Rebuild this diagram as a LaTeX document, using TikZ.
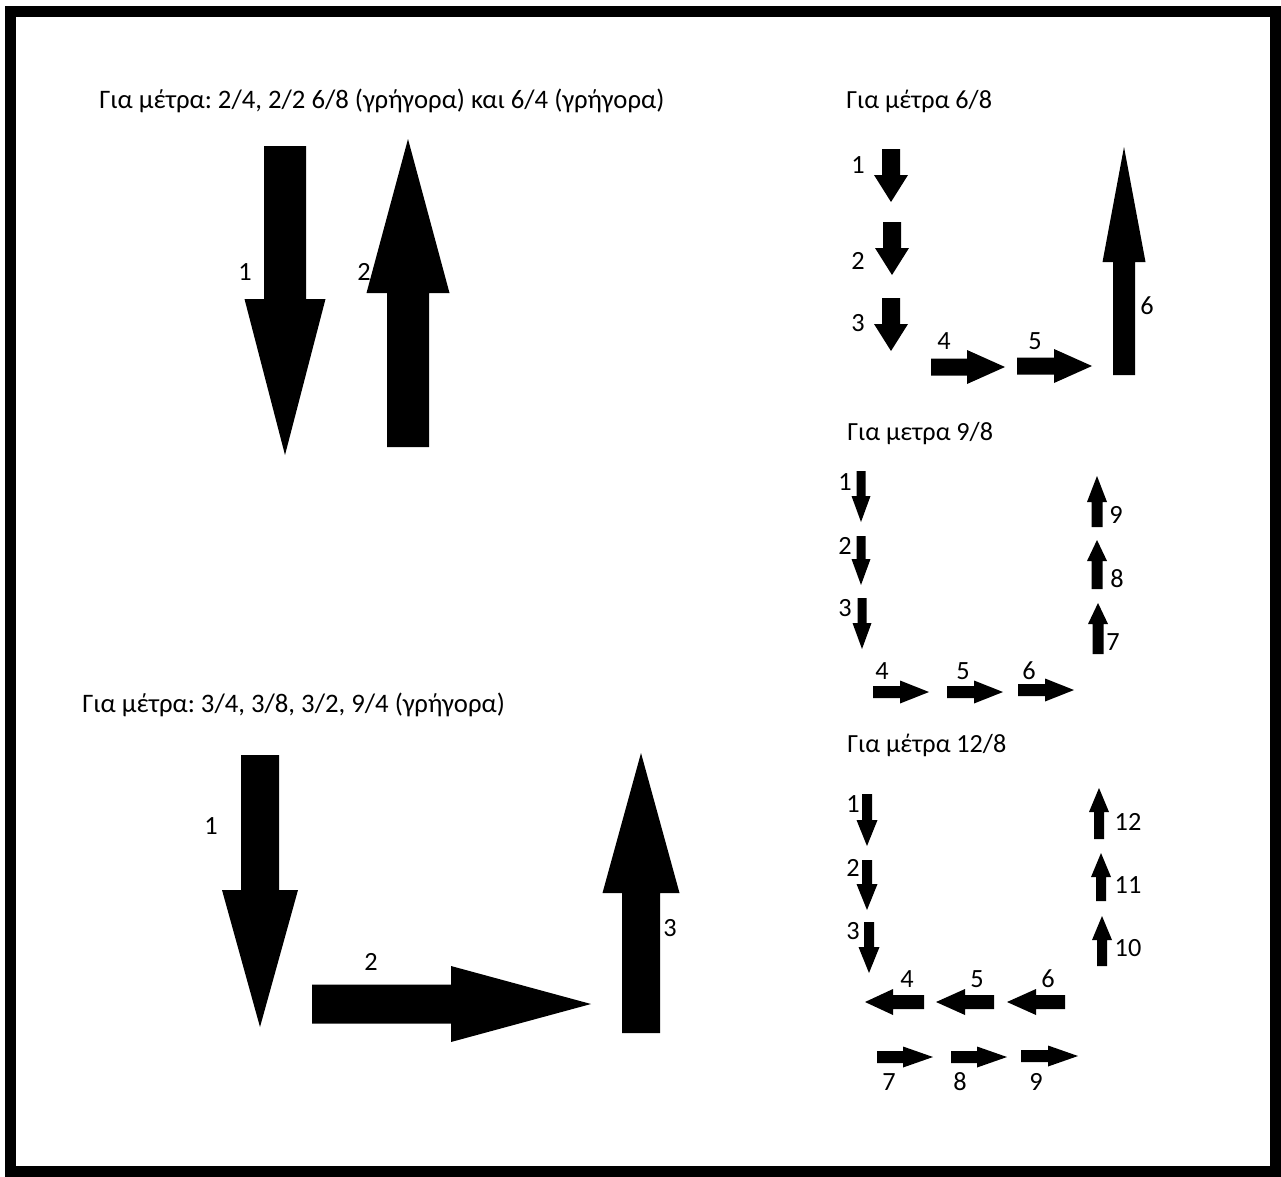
\documentclass[tikz,border=0pt]{standalone}
\usepackage{fontspec}
\setmainfont{Carlito}
\usetikzlibrary{positioning}
\frenchspacing
% block arrow: tail, angle, length, shaft half width, head half width, head length
\newcommand{\barrow}[6]{%
  \fill[shift={#1}, rotate=#2] (0,-#4) -- ({#3-#6},-#4) -- ({#3-#6},-#5) -- (#3,0)
    -- ({#3-#6},#5) -- ({#3-#6},#4) -- (0,#4) -- cycle;
}

\begin{document}
\begin{tikzpicture}[
    x=0.025cm, y=0.025cm,
    title/.style={anchor=base west, inner sep=0, font=\fontsize{19}{22}\selectfont},
    subtitle/.style={anchor=base west, inner sep=0, font=\fontsize{18.6}{22}\selectfont},
    lbl/.style={inner sep=0, font=\fontsize{18.7}{22}\selectfont}
]
    \useasboundingbox (0,0) rectangle (1281,-1176);
    \fill[white] (0,0) rectangle (1281,-1176);
    % Frame
    \draw[line width=8pt] (10.5,-11.5) rectangle (1275.5,-1171.5);

    % Titles
    \node[title] (t1) at (99,-108) {Για μέτρα: 2/4, 2/2 6/8 (γρήγορα) και 6/4 (γρήγορα)};
    \node[title] (t2) at (82,-712) {Για μέτρα: 3/4, 3/8, 3/2, 9/4 (γρήγορα)};
    \node[subtitle] (t68) at (846,-109) {Για μέτρα 6/8};
    \node[subtitle] (t98) at (847,-440) {Για μετρα 9/8};
    \node[subtitle] (t128) at (847,-752) {Για μέτρα 12/8};

    % Two beats
    \barrow{(285,-146)}{-90}{309}{21}{40.5}{156}
    \barrow{(408,-447)}{90}{308}{21}{41.5}{154}
    \node[lbl] (a1) at (245,-272) {1};
    \node[lbl] (a2) at (364,-272) {2};

    % Three beats
    \barrow{(260,-755)}{-90}{272}{19}{38}{137}
    \barrow{(312,-1004)}{0}{279}{19.5}{38}{140}
    \barrow{(641,-1033)}{90}{280}{19}{38.5}{140}
    \node[lbl] (b1) at (211,-826) {1};
    \node[lbl] (b2) at (371,-962) {2};
    \node[lbl] (b3) at (670,-928) {3};

    % 6/8
    \barrow{(891,-149)}{-90}{53}{9}{17}{27}
    \barrow{(892,-222)}{-90}{53}{9}{17}{27}
    \barrow{(891,-298)}{-90}{53}{9}{17}{27}
    \barrow{(931,-367)}{0}{74}{8.5}{17}{38}
    \barrow{(1017,-366)}{0}{75}{8.5}{17}{38}
    \barrow{(1124,-375)}{90}{228}{11}{21.5}{115}
    \node[lbl] (c1) at (858,-165) {1};
    \node[lbl] (c2) at (858,-261) {2};
    \node[lbl] (c3) at (858,-323) {3};
    \node[lbl] (c4) at (944,-341) {4};
    \node[lbl] (c5) at (1035,-341) {5};
    \node[lbl] (c6) at (1147,-306) {6};

    % 9/8
    \barrow{(861,-471)}{-90}{51}{4.5}{9.5}{26}
    \barrow{(861,-536)}{-90}{49}{4.5}{9.5}{26}
    \barrow{(862,-598)}{-90}{51}{4.5}{9.5}{26}
    \barrow{(873,-692)}{0}{56}{6}{11.5}{29}
    \barrow{(947,-692)}{0}{56}{6}{11.5}{29}
    \barrow{(1018,-690)}{0}{56}{6}{11.5}{29}
    \barrow{(1098,-654)}{90}{51}{5.5}{10}{21}
    \barrow{(1097,-589)}{90}{49}{5.5}{10}{21}
    \barrow{(1097,-527)}{90}{51}{5.5}{10}{26}
    \node[lbl] (d1) at (845,-482) {1};
    \node[lbl] (d2) at (845,-546) {2};
    \node[lbl] (d3) at (845,-608) {3};
    \node[lbl] (d4) at (882,-671) {4};
    \node[lbl] (d5) at (963,-671) {5};
    \node[lbl] (d6) at (1029,-671) {6};
    \node[lbl] (d7) at (1113,-642) {7};
    \node[lbl] (d8) at (1117,-579) {8};
    \node[lbl] (d9) at (1116,-515) {9};

    % 12/8
    \barrow{(867,-794)}{-90}{52}{5}{10.5}{26}
    \barrow{(867,-860)}{-90}{50}{5}{10.5}{26}
    \barrow{(869,-922)}{-90}{51}{5}{10.5}{26}
    \barrow{(924,-1002)}{180}{59}{7}{13}{28}
    \barrow{(994,-1002)}{180}{58}{7}{13}{29}
    \barrow{(1065,-1002)}{180}{58}{7}{13}{29}
    \barrow{(877,-1057)}{0}{56}{6}{10.5}{30}
    \barrow{(951,-1057)}{0}{56}{6}{10.5}{30}
    \barrow{(1021,-1056)}{0}{57}{6}{10.5}{30}
    \barrow{(1102,-966)}{90}{50}{5}{10}{24}
    \barrow{(1101,-901)}{90}{48}{5}{10}{24}
    \barrow{(1099,-839)}{90}{51}{5}{10}{24}
    \node[lbl] (e1) at (853,-804) {1};
    \node[lbl] (e2) at (853,-868) {2};
    \node[lbl] (e3) at (853,-931) {3};
    \node[lbl] (e4) at (907,-979) {4};
    \node[lbl] (e5) at (977,-979) {5};
    \node[lbl] (e6) at (1048,-979) {6};
    \node[lbl] (e7) at (889,-1082) {7};
    \node[lbl] (e8) at (960,-1082) {8};
    \node[lbl] (e9) at (1036,-1082) {9};
    \node[lbl] (e10) at (1128,-948) {10};
    \node[lbl] (e11) at (1128,-885) {11};
    \node[lbl] (e12) at (1128,-822) {12};
\end{tikzpicture}
\end{document}
